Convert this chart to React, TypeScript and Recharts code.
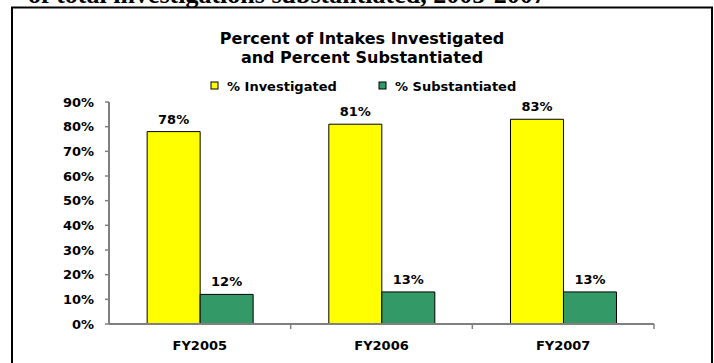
import { BarChart, Bar, XAxis, YAxis, LabelList } from "recharts";

const years = ["FY2005", "FY2006", "FY2007"];
const investigated = [78, 81, 83];
const substantiated = [12, 13, 13];
const yTicks = [0, 10, 20, 30, 40, 50, 60, 70, 80, 90];
const seriesNames = ["% Investigated", "% Substantiated"];
const seriesColors = ["#FFFF00", "#339966"];
const titleLines = ["Percent of Intakes Investigated", "and Percent Substantiated"];
const pageHeading = "of total investigations substantiated, 2005-2007";

const FONT = '"DejaVu Sans", sans-serif';
const AXIS = "#808080";
const TICK_SIZE = 6;
const TICK_MARGIN = 11;

const data = years.map((year, i) => ({
  year,
  investigated: investigated[i],
  substantiated: substantiated[i],
}));

const pct = (v: any) => `${v}%`;
const textStyle = { fill: "#000", fontSize: 13, fontWeight: "bold", fontFamily: FONT };

// category label plus a small tick on the right edge of each category band (Excel style)
function CategoryTick(props: any) {
  const { x, y, payload, width, visibleTicksCount } = props;
  const half = width && visibleTicksCount ? width / visibleTicksCount / 2 : 91;
  const axisY = y - TICK_MARGIN - TICK_SIZE;
  return (
    <g>
      <line x1={x + half} x2={x + half} y1={axisY} y2={axisY + 5} stroke={AXIS} strokeWidth={1.5} />
      <text x={x} y={y} dy="0.71em" textAnchor="middle" {...textStyle}>
        {payload.value}
      </text>
    </g>
  );
}

export default function App() {
  return (
    <div style={{ position: "absolute", left: 0, top: 0, width: 714, height: 363, overflow: "hidden", background: "#fff" }}>
      {/* page heading (cut off at the top), frame, title and legend */}
      <svg width={714} height={363} style={{ position: "absolute", left: 0, top: 0 }}>
        <text x={28} y={3} fontFamily='"Liberation Serif", serif' fontWeight="bold" fontSize={26} fill="#000">
          {pageHeading}
        </text>
        <rect x={12} y={7.5} width={700} height={400} fill="none" stroke="#000" strokeWidth={2} />
        {titleLines.map((t, i) => (
          <text key={t} x={362} y={44 + i * 19} textAnchor="middle" fontFamily={FONT} fontWeight="bold" fontSize={16} fill="#000">
            {t}
          </text>
        ))}
        {seriesNames.map((name, i) => (
          <g key={name} transform={`translate(${211 + i * 168}, 82)`}>
            <rect x={0} y={0} width={7} height={7} fill={seriesColors[i]} stroke="#000" strokeWidth={1} />
            <text x={16} y={8.5} fontFamily={FONT} fontWeight="bold" fontSize={13} fill="#000">
              {name}
            </text>
          </g>
        ))}
      </svg>
      <div style={{ position: "absolute", left: 0, top: 0 }}>
        <BarChart
          width={714}
          height={363}
          data={data}
          margin={{ top: 102, right: 60, left: 9, bottom: 0 }}
          barCategoryGap="21%"
          barGap={0}
        >
          <XAxis
            dataKey="year"
            height={39}
            axisLine={{ stroke: AXIS, strokeWidth: 2 }}
            tickLine={false}
            tickSize={TICK_SIZE}
            tickMargin={TICK_MARGIN}
            tick={<CategoryTick />}
          />
          <YAxis
            domain={[0, 90]}
            ticks={yTicks}
            interval={0}
            width={100}
            tickFormatter={pct}
            axisLine={{ stroke: AXIS, strokeWidth: 2 }}
            tickLine={{ stroke: AXIS, strokeWidth: 1.5 }}
            tickSize={4}
            tickMargin={11}
            tick={textStyle}
          />
          <Bar dataKey="investigated" fill={seriesColors[0]} stroke="#000" strokeWidth={1} isAnimationActive={false}>
            <LabelList dataKey="investigated" position="top" offset={8} formatter={pct} style={textStyle} />
          </Bar>
          <Bar dataKey="substantiated" fill={seriesColors[1]} stroke="#000" strokeWidth={1} isAnimationActive={false}>
            <LabelList dataKey="substantiated" position="top" offset={8} formatter={pct} style={textStyle} />
          </Bar>
        </BarChart>
      </div>
    </div>
  );
}
